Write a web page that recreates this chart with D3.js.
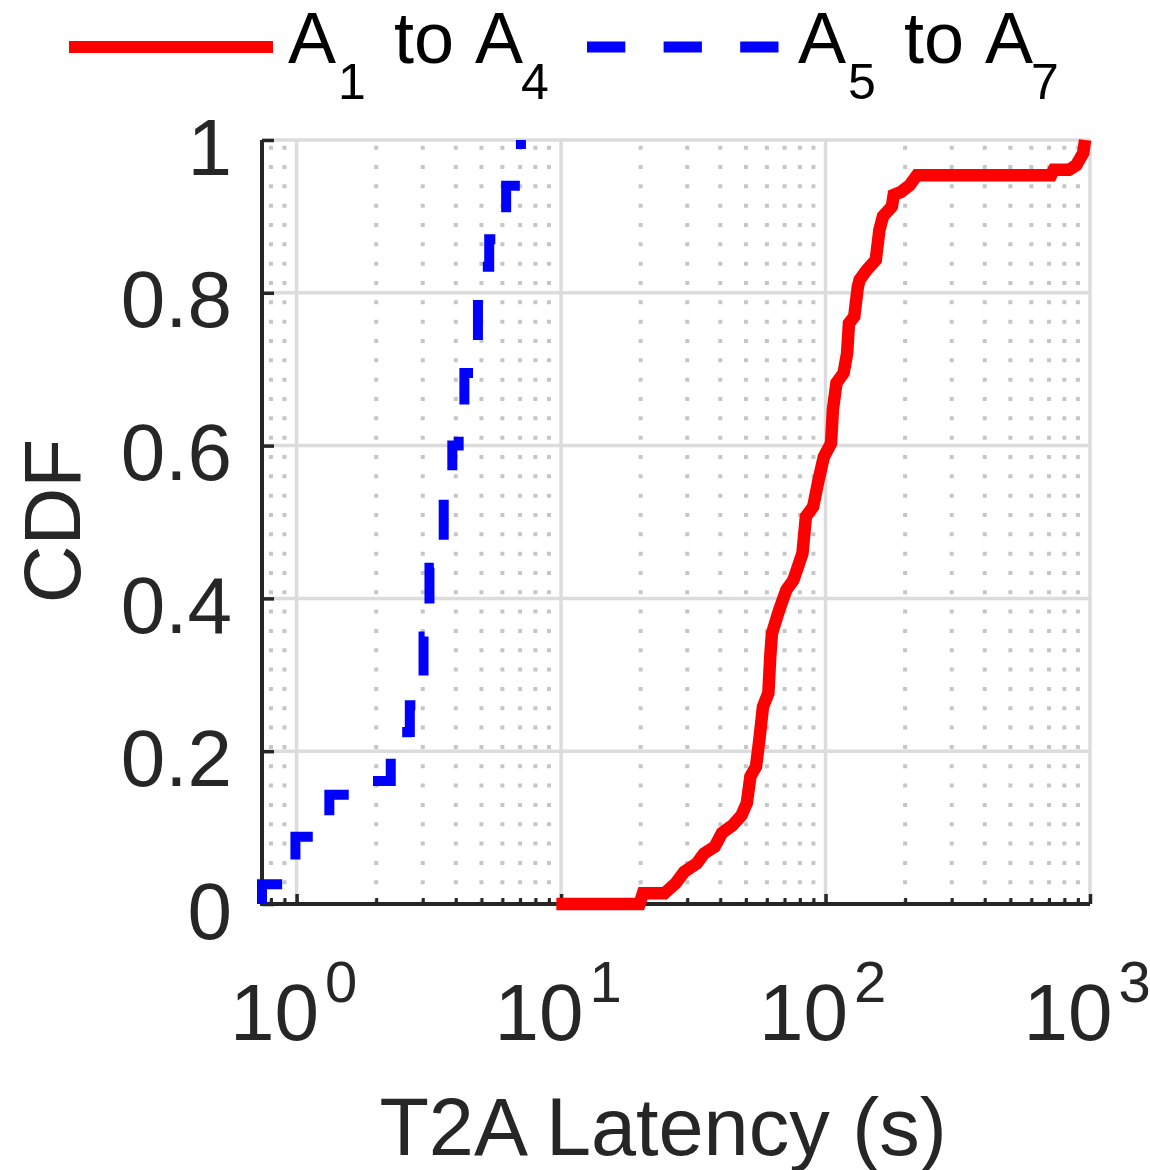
<!DOCTYPE html>
<html>
<head>
<meta charset="utf-8">
<script src="https://cdn.jsdelivr.net/npm/d3@7"></script>
<style>
  body { margin: 0; background: #fff; }
  svg { display: block; font-family: "Liberation Sans", Arial, Helvetica, sans-serif; }
</style>
</head>
<body>
<div id="chart"></div>
<script>
// T2A latency samples (seconds, cumulative fraction)
const redLatency = [9.6, 19.8, 20.4, 24.6, 27.1, 29.2, 32.6, 34.7, 38.1, 40.6, 44.5, 48.1, 50.4, 52.0, 54.6, 56.2, 58.0, 60.8, 61.8, 62.7, 66.8, 71.1, 75.6, 81.8, 84.3, 89.8, 94.1, 98.5, 104.9, 106.6, 110.0, 117.0, 120.7, 122.6, 128.4, 132.5, 134.6, 143.3, 154.9, 159.8, 164.9, 178.2, 181.0, 192.7, 208.2, 221.7, 712.8, 730, 833, 887, 943, 958];
const redCdf = [0, 0, 0.014, 0.014, 0.027, 0.042, 0.053, 0.066, 0.075, 0.093, 0.103, 0.116, 0.132, 0.167, 0.180, 0.215, 0.258, 0.276, 0.324, 0.354, 0.385, 0.411, 0.424, 0.459, 0.507, 0.520, 0.555, 0.585, 0.603, 0.647, 0.682, 0.695, 0.721, 0.760, 0.769, 0.808, 0.817, 0.830, 0.843, 0.882, 0.900, 0.913, 0.928, 0.932, 0.941, 0.954, 0.954, 0.961, 0.961, 0.967, 0.983, 1.0];

// step CDF: value where the curve steps up, and the level it reaches
const blueLatency = [0.74, 0.74, 0.99, 1.33, 1.65, 2.27, 2.62, 2.68, 2.95, 3.02, 3.12, 3.18, 3.35, 3.6, 3.8, 3.88, 4.1, 4.31, 4.85, 4.85, 5.35, 5.9, 6.2, 7.05];
const blueCdf = [0, 0.026, 0.088, 0.143, 0.161, 0.195, 0.225, 0.26, 0.29, 0.35, 0.39, 0.44, 0.47, 0.53, 0.56, 0.6, 0.62, 0.695, 0.78, 0.834, 0.87, 0.902, 0.94, 1.0];

const xMajor = [1, 10, 100, 1000];
const xMinor = [0.8, 0.9, 2, 3, 4, 5, 6, 7, 8, 9, 20, 30, 40, 50, 60, 70, 80, 90, 200, 300, 400, 500, 600, 700, 800, 900];
const yTicks = [0, 0.2, 0.4, 0.6, 0.8, 1];
const yTickLabels = ['0', '0.2', '0.4', '0.6', '0.8', '1'];

const W = 1150, H = 1170;
const margin = { top: 140, right: 60, bottom: 266, left: 262 };
const width = W - margin.left - margin.right;
const height = H - margin.top - margin.bottom;
const ink = '#262626';

const svg = d3.select('#chart').append('svg')
  .attr('width', W)
  .attr('height', H);

const plot = svg.append('g')
  .attr('transform', `translate(${margin.left},${margin.top})`);

const x = d3.scaleLog().domain([0.74, 1000]).range([0, width]);
const y = d3.scaleLinear().domain([0, 1]).range([height, 0]);

// minor grid: dotted vertical lines
plot.append('g')
  .selectAll('line')
  .data(xMinor)
  .join('line')
  .attr('x1', d => x(d)).attr('x2', d => x(d))
  .attr('y1', 0).attr('y2', height)
  .attr('stroke', '#c6c6c6')
  .attr('stroke-width', 4)
  .attr('stroke-dasharray', '4 15.33')
  .attr('stroke-dashoffset', -5.7);

// major grid
plot.append('g')
  .selectAll('line')
  .data(xMajor)
  .join('line')
  .attr('x1', d => x(d)).attr('x2', d => x(d))
  .attr('y1', 0).attr('y2', height)
  .attr('stroke', '#dcdcdc')
  .attr('stroke-width', 3.5);

plot.append('g')
  .selectAll('line')
  .data(yTicks.slice(1))
  .join('line')
  .attr('x1', 0).attr('x2', width)
  .attr('y1', d => y(d)).attr('y2', d => y(d))
  .attr('stroke', '#dcdcdc')
  .attr('stroke-width', 3.5);

// y axis, ticks pointing inward
const yAxis = plot.append('g')
  .call(d3.axisLeft(y).tickValues(yTicks).tickSize(-12).tickPadding(30)
    .tickFormat((d, i) => yTickLabels[i]));
yAxis.select('.domain').remove();
yAxis.selectAll('line').attr('stroke', ink).attr('stroke-width', 3.5);
yAxis.selectAll('text')
  .attr('fill', ink)
  .attr('font-size', 80)
  .attr('dy', 34)
  .style('font-family', '"Liberation Sans", Arial, sans-serif');

// x axis: major and minor ticks inside
const xAxisMinor = plot.append('g')
  .attr('transform', `translate(0,${height})`)
  .call(d3.axisBottom(x).tickValues(xMinor).tickSize(-6).tickFormat(''));
xAxisMinor.select('.domain').remove();
xAxisMinor.selectAll('line').attr('stroke', ink).attr('stroke-width', 3);

const xAxis = plot.append('g')
  .attr('transform', `translate(0,${height})`)
  .call(d3.axisBottom(x).tickValues(xMajor).tickSize(-10).tickFormat(''));
xAxis.select('.domain').remove();
xAxis.selectAll('line').attr('stroke', ink).attr('stroke-width', 3.5);

// x tick labels as 10^n
xAxis.selectAll('.tick').append('text')
  .attr('x', -67)
  .attr('y', 136)
  .attr('fill', ink)
  .attr('font-size', 80)
  .attr('text-anchor', 'start')
  .each(function (d) {
    const t = d3.select(this);
    t.append('tspan').text('10');
    t.append('tspan')
      .attr('dx', 6)
      .attr('dy', -38)
      .attr('font-size', 58)
      .text(Math.round(Math.log10(d)));
  });

// axis lines (left and bottom)
plot.append('line')
  .attr('x1', 0).attr('x2', 0).attr('y1', 0).attr('y2', height + 2)
  .attr('stroke', ink).attr('stroke-width', 4);
plot.append('line')
  .attr('x1', -2).attr('x2', width).attr('y1', height).attr('y2', height)
  .attr('stroke', ink).attr('stroke-width', 4);

// curves
const redData = redLatency.map((v, i) => [v, redCdf[i]]);
const blueData = blueLatency.map((v, i) => [v, blueCdf[i]]);

plot.append('path')
  .datum(redData)
  .attr('fill', 'none')
  .attr('stroke', '#ff0000')
  .attr('stroke-width', 12.5)
  .attr('stroke-linejoin', 'miter')
  .attr('d', d3.line().x(d => x(d[0])).y(d => y(d[1])));

plot.append('path')
  .datum(blueData)
  .attr('fill', 'none')
  .attr('stroke', '#0000ff')
  .attr('stroke-width', 10)
  .attr('stroke-dasharray', '40 38')
  .attr('d', d3.line().curve(d3.curveStepAfter).x(d => x(d[0])).y(d => y(d[1])));

// axis titles
svg.append('text')
  .attr('x', 663)
  .attr('y', 1155)
  .attr('text-anchor', 'middle')
  .attr('font-size', 81)
  .attr('fill', ink)
  .text('T2A Latency (s)');

svg.append('text')
  .attr('transform', 'translate(80,521) rotate(-90)')
  .attr('text-anchor', 'middle')
  .attr('font-size', 80)
  .attr('fill', ink)
  .text('CDF');

// legend
const legend = svg.append('g');
legend.append('line')
  .attr('x1', 69).attr('x2', 273).attr('y1', 47).attr('y2', 47)
  .attr('stroke', '#ff0000').attr('stroke-width', 12);
legend.append('line')
  .attr('x1', 587).attr('x2', 779).attr('y1', 47).attr('y2', 47)
  .attr('stroke', '#0000ff').attr('stroke-width', 11)
  .attr('stroke-dasharray', '38.3 38.3');

function legendLabel(x0, a, b) {
  const t = legend.append('text').attr('y', 63).attr('fill', '#000').attr('font-size', 72);
  t.append('tspan').attr('x', x0).text('A');
  t.append('tspan').attr('x', x0 + 50).attr('dy', 36).attr('font-size', 50).text(a);
  t.append('tspan').attr('x', x0 + 106).attr('dy', -36).text('to');
  t.append('tspan').attr('x', x0 + 187).text('A');
  t.append('tspan').attr('x', x0 + 233).attr('dy', 36).attr('font-size', 50).text(b);
}
legendLabel(288, '1', '4');
legendLabel(798, '5', '7');
</script>
</body>
</html>
